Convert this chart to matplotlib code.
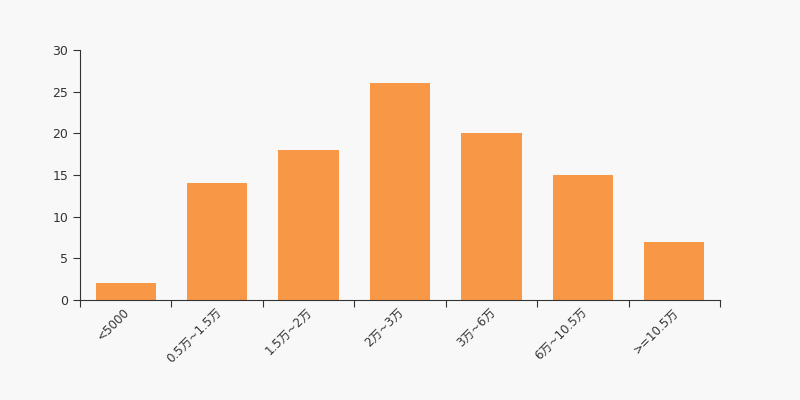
import matplotlib.pyplot as plt
import numpy as np

plt.rcParams['font.family'] = ['DejaVu Sans', 'Noto Sans CJK SC']

# data
categories = ["<5000", "0.5万~1.5万", "1.5万~2万", "2万~3万", "3万~6万", "6万~10.5万", ">=10.5万"]
counts = [2, 14, 18, 26, 20, 15, 7]

bg = "#f8f8f8"
bar_color = "#f89846"
text_color = "#333333"

fig = plt.figure(figsize=(8, 4), dpi=100, facecolor=bg)
ax = fig.add_axes([0.1, 0.25, 0.8, 0.625], facecolor=bg)

x = np.arange(len(categories))
ax.bar(x, counts, width=0.66, color=bar_color, zorder=2)

ax.set_xlim(-0.5, len(categories) - 0.5)
ax.set_ylim(0, 30)
ax.set_yticks([0, 5, 10, 15, 20, 25, 30])

# ticks on category boundaries, labels at centers
ax.set_xticks(np.arange(len(categories) + 1) - 0.5)
ax.set_xticklabels([])
ax.set_xticks(x - 0.03, minor=True)
ax.set_xticklabels(categories, minor=True, rotation=45, ha='right', va='top',
                   rotation_mode='anchor', fontsize=8.6, color=text_color)
ax.tick_params(axis='x', which='minor', length=0, pad=4)
ax.tick_params(axis='x', which='major', length=5, color=text_color)
ax.tick_params(axis='y', length=5, labelsize=9, colors=text_color)

for side in ['top', 'right']:
    ax.spines[side].set_visible(False)
for side in ['left', 'bottom']:
    ax.spines[side].set_color(text_color)

plt.savefig("out.png", dpi=100, facecolor=bg)
